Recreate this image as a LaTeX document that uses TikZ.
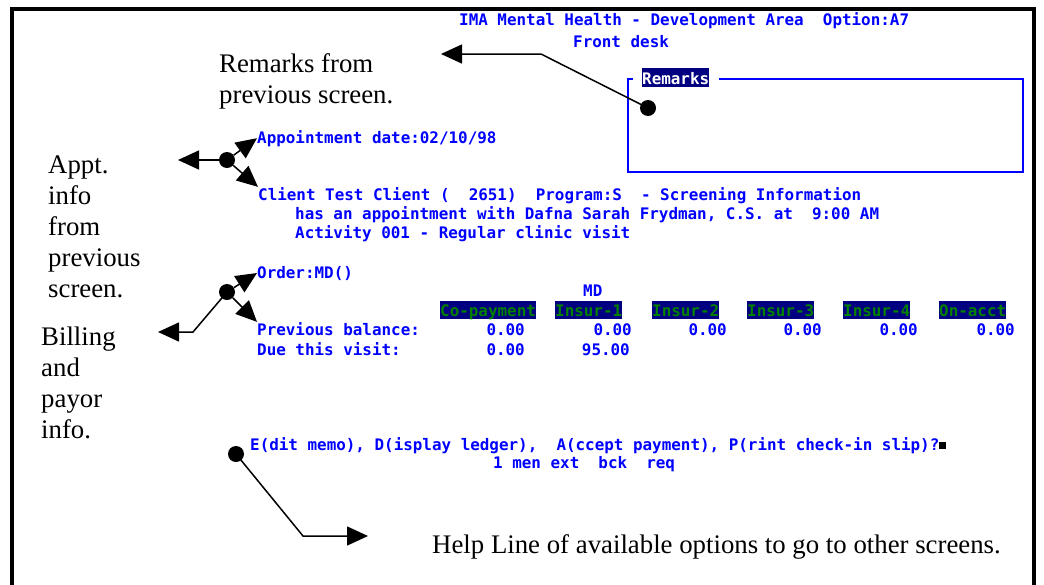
\documentclass[tikz,border=0pt]{standalone}
\usepackage{fontspec}
\setmainfont{Liberation Serif}
\newfontfamily\termfont{DejaVu Sans Mono}
\usetikzlibrary{arrows.meta}
\definecolor{termblue}{RGB}{0,0,255}
\definecolor{termnavy}{RGB}{0,0,128}
\definecolor{termgreen}{RGB}{0,128,0}

\begin{document}
\begin{tikzpicture}[
			x=1pt, y=-1pt,
			term/.style={text=termblue, font=\termfont\bfseries\fontsize{15.9}{19}\selectfont, inner sep=0pt, anchor=base west},
			hilite/.style={term, fill=termnavy, text=termgreen, text height=15pt, text depth=3pt},
			val/.style={term, anchor=base east},
			note/.style={font=\fontsize{26.8}{31}\selectfont, inner sep=0pt, anchor=north west, align=left},
			dot/.style={circle, fill=black, inner sep=0pt, minimum size=16pt},
			pointer/.style={line width=1.5pt, -{Triangle[length=21pt,width=19pt]}}
		]
		\useasboundingbox (0,0) rectangle (1044,584);
		\draw[line width=4pt] (12,600) -- (12,9) -- (1034,9) -- (1034,600);

		\node[term] (head1) at (459,25) {IMA Mental Health - Development Area~~Option:A7};
		\node[term] (head2) at (573,47) {Front desk};

		\draw[termblue, line width=2pt] (633,79) -- (628,79) -- (628,172) -- (1023,172) -- (1023,79) -- (719,79);
		\node[hilite, text=white, text height=16pt] (rmklabel) at (642,84) {Remarks};

		\node[term] (apptdate) at (257,143) {Appointment date:02/10/98};
		\node[term] (client) at (258,200) {Client Test Client (~~2651)~~Program:S~~- Screening Information};
		\node[term] (appt2) at (295,219) {has an appointment with Dafna Sarah Frydman, C.S. at~~9:00 AM};
		\node[term] (appt3) at (295,238) {Activity 001 - Regular clinic visit};

		\node[term] (order) at (257,278) {Order:MD()};
		\node[term] (md) at (583,296) {MD};
		\node[hilite] (copay) at (440,316) {Co-payment};
		\node[hilite] (insur1) at (555,316) {Insur-1~};
		\node[hilite] (insur2) at (652,316) {Insur-2};
		\node[hilite] (insur3) at (747,316) {Insur-3};
		\node[hilite] (insur4) at (843,316) {Insur-4};
		\node[hilite] (onacct) at (939,316) {On-acct};

		\node[term] (prevbal) at (257,335) {Previous balance:};
		\node[val] (prev1) at (525,335) {0.00};
		\node[val] (prev2) at (632,335) {0.00};
		\node[val] (prev3) at (727,335) {0.00};
		\node[val] (prev4) at (822,335) {0.00};
		\node[val] (prev5) at (918,335) {0.00};
		\node[val] (prev6) at (1015,335) {0.00};
		\node[term] (duevisit) at (257,355) {Due this visit:};
		\node[val] (due1) at (525,355) {0.00};
		\node[val] (due2) at (630,355) {95.00};

		\node[term] (prompt) at (250,450) {E(dit memo), D(isplay ledger),~~A(ccept payment), P(rint check-in slip)?\textcolor{black}{\rule[1pt]{7pt}{7pt}}};
		\node[term] (helpkeys) at (493,468) {1 men ext~~bck~~req};

		\node[note] (rmknote) at (219,53) {Remarks from\\previous screen.};
		\node[note] (apptnote) at (48,156) {Appt.\\info\\from\\previous\\screen.};
		\node[note] (billnote) at (41,327) {Billing\\and\\payor\\info.};
		\node[note, anchor=base west] (helpnote) at (432,553) {Help Line of available options to go to other screens.};

		\node[dot] (rmkdot) at (648,108) {};
		\coordinate (rmkbend) at (541,54);
		\coordinate (rmktip) at (441,54);
		\draw[pointer] (rmkdot.center) -- (rmkbend) -- (rmktip);

		\node[dot] (apptdot) at (227,160) {};
		\coordinate (appttip) at (178,160);
		\draw[pointer] (apptdot) -- (appttip);
		\draw[pointer] (apptdot) -- (apptdate.west);
		\draw[pointer] (apptdot) -- (client.north west);

		\node[dot] (billdot) at (227,292) {};
		\coordinate (billbend) at (193,332);
		\coordinate (billtip) at (158,332);
		\draw[pointer] (billdot.center) -- (billbend) -- (billtip);
		\draw[pointer] (billdot) -- (order.west);
		\draw[pointer] (billdot) -- (prevbal.north west);

		\node[dot] (helpdot) at (236,454) {};
		\coordinate (helpbend) at (303,536);
		\coordinate (helptip) at (368,536);
		\draw[pointer] (helpdot.center) -- (helpbend) -- (helptip);

	\end{tikzpicture}
\end{document}
